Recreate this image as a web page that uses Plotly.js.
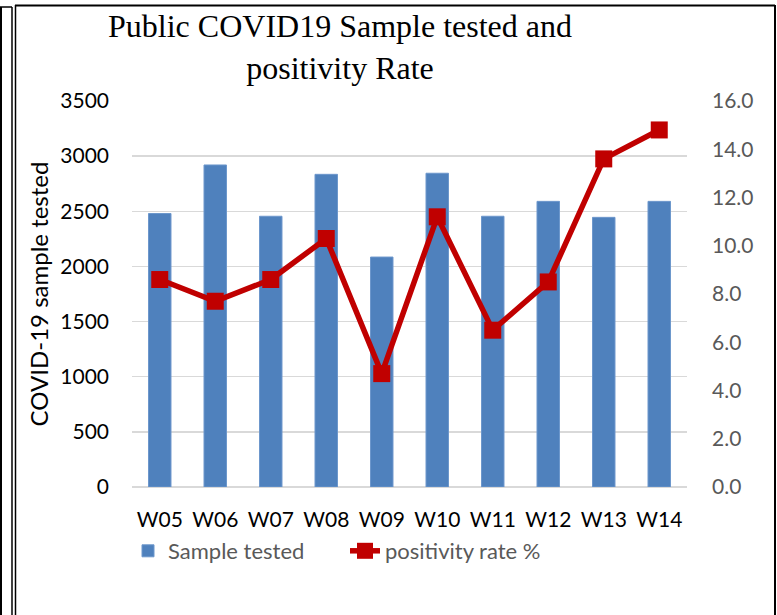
<!DOCTYPE html>
<html>
<head>
<meta charset="utf-8">
<script src="https://cdn.plot.ly/plotly-3.0.1.min.js"></script>
<style>
  html, body { margin: 0; padding: 0; background: #ffffff; }
  #chart { width: 777px; height: 615px; }
</style>
</head>
<body>
<div id="chart"></div>
<script>
// ---- data ----
const weeks = ["W05", "W06", "W07", "W08", "W09", "W10", "W11", "W12", "W13", "W14"];
const samplesTested = [2480, 2920, 2455, 2835, 2085, 2845, 2455, 2590, 2445, 2590];
const positivityRate = [8.6, 7.7, 8.6, 10.3, 4.7, 11.2, 6.5, 8.5, 13.6, 14.8];
const leftTicks = [0, 500, 1000, 1500, 2000, 2500, 3000, 3500];
const rightTicks = [0, 2, 4, 6, 8, 10, 12, 14, 16];

// ---- layout geometry (pixels) ----
const W = 777, H = 615;
const M = { l: 132, r: 90, t: 101, b: 128 };
const PW = W - M.l - M.r, PH = H - M.t - M.b;
const px = v => (v - M.l) / PW;
const py = v => (H - M.b - v) / PH;

function vline(x, y0, y1, w) {
  return { type: "line", xref: "paper", yref: "paper", layer: "above",
           x0: px(x), x1: px(x), y0: py(y0), y1: py(y1),
           line: { color: "#000000", width: w } };
}
function hline(y, x0, x1, w) {
  return { type: "line", xref: "paper", yref: "paper", layer: "above",
           x0: px(x0), x1: px(x1), y0: py(y), y1: py(y),
           line: { color: "#000000", width: w } };
}

const font = "Lato, 'Open Sans', sans-serif";

const traces = [
  {
    type: "bar",
    name: "Sample tested",
    x: weeks,
    y: samplesTested,
    marker: { color: "#4f81bd", line: { color: "#6d97cc", width: 1 } },
    yaxis: "y",
    hoverinfo: "x+y"
  },
  {
    type: "scatter",
    mode: "lines+markers",
    name: "positivity rate %",
    x: weeks,
    y: positivityRate,
    yaxis: "y2",
    line: { color: "#c00000", width: 5.5 },
    marker: { symbol: "square", size: 17, color: "#c00000" }
  }
];

const layout = {
  width: W, height: H,
  margin: M,
  paper_bgcolor: "#ffffff",
  plot_bgcolor: "#ffffff",
  font: { family: font, color: "#000000" },
  showlegend: true,
  title: {
    text: "Public COVID19 Sample tested and<br>positivity Rate",
    font: { family: "'Liberation Serif', 'Times New Roman', serif", size: 32, color: "#000000" },
    xref: "container", x: 340 / W, xanchor: "center",
    yref: "container", y: 1 - 37 / H, yanchor: "top"
  },
  bargap: 0.595,
  xaxis: {
    type: "category",
    range: [-0.5, weeks.length - 0.5],
    tickfont: { family: font, size: 21, color: "#000000" },
    showgrid: false, showline: false, zeroline: false,
    ticks: "", ticklabelstandoff: 18,
    fixedrange: true
  },
  yaxis: {
    range: [0, 3500],
    tickvals: leftTicks,
    tickfont: { family: font, size: 21, color: "#000000" },
    showgrid: true, gridcolor: "#d9d9d9", gridwidth: 1.5,
    zeroline: true, zerolinecolor: "#d9d9d9", zerolinewidth: 1.5,
    showline: false, ticks: "", ticklabelstandoff: 22,
    title: { text: "COVID-19 sample tested", font: { family: font, size: 24, color: "#000000" }, standoff: 4 },
    fixedrange: true
  },
  yaxis2: {
    overlaying: "y", side: "right",
    range: [0, 16],
    tickvals: rightTicks,
    tickformat: ".1f",
    tickfont: { family: font, size: 21, color: "#595959" },
    showgrid: false, zeroline: false, showline: false,
    ticks: "", ticklabelstandoff: 24,
    fixedrange: true
  },
  legend: {
    orientation: "h",
    x: px(128), xanchor: "left",
    y: py(551), yanchor: "middle",
    font: { family: font, size: 22, color: "#595959" },
    bgcolor: "rgba(0,0,0,0)",
    entrywidth: 172, entrywidthmode: "pixels",
    traceorder: "normal"
  },
  shapes: [
    vline(1, 7, H, 2),
    hline(7, 0, 12, 1.5),
    vline(12, 7, H, 1.5),
    vline(15.5, 5, H, 1.5),
    hline(5.5, 15, 775, 2),
    vline(775, 5, H, 2)
  ]
};

Plotly.newPlot("chart", traces, layout, { displayModeBar: false, staticPlot: true });
</script>
</body>
</html>
